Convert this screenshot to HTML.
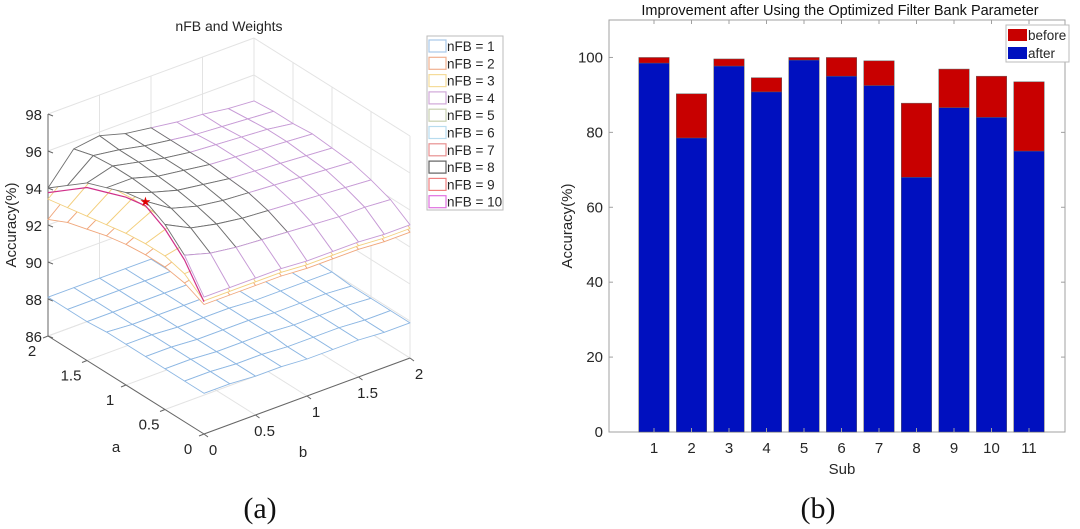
<!DOCTYPE html>
<html><head><meta charset="utf-8"><style>
html,body{margin:0;padding:0;background:#fff;}
svg{display:block;font-family:"Liberation Sans",Arial,sans-serif;}
</style></head><body>
<svg id="fig" width="1080" height="529" viewBox="0 0 1080 529" xmlns="http://www.w3.org/2000/svg">
<g id="left"></g>
<g id="right"></g>
<text x="260" y="518" text-anchor="middle" font-family="Liberation Serif, serif" font-size="30" fill="#111">(a)</text>
<text x="818" y="518" text-anchor="middle" font-family="Liberation Serif, serif" font-size="30" fill="#111">(b)</text>
</svg>
<script>
// ---------- Right chart data ----------
const subs = ["1","2","3","4","5","6","7","8","9","10","11"];
const beforeVals = [100, 90.3, 99.6, 94.6, 100, 100, 99.1, 87.8, 96.9, 95, 93.5];
const afterVals = [98.5, 78.5, 97.7, 90.8, 99.3, 95, 92.5, 68, 86.6, 84, 75];
const yTicks = [0, 20, 40, 60, 80, 100];

// ---------- Left chart data ----------
const gridA = [0, 0.25, 0.5, 0.75, 1, 1.25, 1.5, 1.75, 2];
const gridB = [0, 0.25, 0.5, 0.75, 1, 1.25, 1.5, 1.75, 2];
const zTicks = [86, 88, 90, 92, 94, 96, 98];
const aTicks = [0, 0.5, 1, 1.5, 2];
const bTicks = [0, 0.5, 1, 1.5, 2];
const zBlue = [
[88.2,88.2,88.1,88.1,88.0,88.0,88.0,87.9,87.9],
[88.2,88.2,88.1,88.1,88.0,88.0,88.0,87.9,87.9],
[88.2,88.2,88.1,88.1,88.1,88.0,88.0,88.0,87.9],
[88.2,88.2,88.1,88.1,88.1,88.0,88.0,88.0,87.9],
[88.2,88.2,88.1,88.1,88.1,88.0,88.0,88.0,88.0],
[88.2,88.1,88.1,88.1,88.1,88.0,88.0,88.0,88.0],
[88.1,88.1,88.1,88.1,88.1,88.0,88.0,88.0,88.0],
[88.1,88.1,88.1,88.1,88.1,88.0,88.0,88.0,88.0],
[88.1,88.1,88.1,88.1,88.1,88.0,88.0,88.0,88.0]];
const zOrange = [
[93.0,93.0,93.0,93.0,92.9,92.9,92.9,92.8,92.8],
[93.5,93.8,93.9,93.9,93.8,93.7,93.6,93.6,93.5],
[93.7,94.2,94.3,94.3,94.2,94.1,94.0,93.9,93.8],
[93.7,94.3,94.5,94.5,94.4,94.3,94.2,94.1,94.0],
[93.6,94.3,94.6,94.6,94.5,94.4,94.3,94.2,94.1],
[93.4,94.2,94.6,94.6,94.6,94.5,94.4,94.3,94.2],
[93.1,94.0,94.5,94.6,94.6,94.5,94.4,94.3,94.2],
[92.8,93.8,94.4,94.6,94.6,94.5,94.4,94.3,94.2],
[92.3,93.5,94.3,94.5,94.5,94.4,94.3,94.2,94.1]];
const zYellow = [
[93.2,93.2,93.2,93.2,93.1,93.1,93.1,93.0,93.0],
[94.0,94.1,94.1,94.0,93.9,93.9,93.8,93.8,93.7],
[94.3,94.6,94.6,94.5,94.4,94.3,94.2,94.1,94.0],
[94.3,94.8,94.9,94.8,94.7,94.6,94.5,94.4,94.3],
[94.2,94.9,95.0,95.0,94.8,94.7,94.6,94.5,94.4],
[94.0,94.9,95.1,95.1,94.9,94.8,94.7,94.6,94.5],
[93.8,94.8,95.2,95.1,94.9,94.8,94.7,94.6,94.4],
[93.6,94.7,95.2,95.1,94.9,94.7,94.6,94.5,94.4],
[93.4,94.6,95.2,95.1,94.9,94.7,94.6,94.4,94.3]];
const zTop = [
[93.4,93.4,93.4,93.4,93.3,93.3,93.3,93.2,93.2],
[95.0,94.6,94.4,94.3,94.2,94.1,94.0,94.0,93.9],
[96.0,95.3,95.0,94.8,94.7,94.6,94.5,94.4,94.3],
[96.6,95.7,95.3,95.1,95.0,94.9,94.8,94.7,94.6],
[96.4,95.9,95.5,95.3,95.1,95.0,94.9,94.8,94.7],
[96.0,96.0,95.6,95.4,95.2,95.1,95.0,94.9,94.8],
[95.6,96.0,95.7,95.4,95.2,95.1,95.0,94.9,94.7],
[94.8,95.9,95.7,95.4,95.2,95.0,94.9,94.8,94.7],
[94.0,95.6,95.8,95.4,95.2,95.0,94.9,94.7,94.6]];
const bestPoint = [0.75, 0, 96.6];
const legendLabels = ["nFB = 1","nFB = 2","nFB = 3","nFB = 4","nFB = 5","nFB = 6","nFB = 7","nFB = 8","nFB = 9","nFB = 10"];

const NS = "http://www.w3.org/2000/svg";
function mk(parent, tag, attrs, text) {
  const e = document.createElementNS(NS, tag);
  for (const k in attrs) e.setAttribute(k, attrs[k]);
  if (text !== undefined) e.textContent = text;
  parent.appendChild(e);
  return e;
}

// ================= LEFT 3D =================
(function () {
  const g = document.getElementById('left');
  const P = (a, b, z) => [204 - 78 * a + 103 * b, 434 - 49 * a - 38 * b - 18.5 * (z - 86)];
  const line = (p, q, col, w, name) => {
    const l = mk(g, 'line', {x1: p[0], y1: p[1], x2: q[0], y2: q[1], stroke: col, 'stroke-width': w});
    
    
  };
  const gc = '#e3e3e3';
  zTicks.forEach(z => {
    line(P(2, 0, z), P(2, 2, z), gc, 1, 'z-gridline');
    line(P(2, 2, z), P(0, 2, z), gc, 1, 'z-gridline');
  });
  bTicks.forEach(b => {
    line(P(2, b, 86), P(2, b, 98), gc, 1, 'b-gridline');
    line(P(0, b, 86), P(2, b, 86), gc, 1, 'b-gridline');
  });
  aTicks.forEach(a => {
    line(P(a, 2, 86), P(a, 2, 98), gc, 1, 'a-gridline');
    line(P(a, 0, 86), P(a, 2, 86), gc, 1, 'a-gridline');
  });
  const ac = '#666';
  line(P(2, 0, 86), P(2, 0, 98), ac, 1, 'z-axis');
  line(P(2, 0, 86), P(0, 0, 86), ac, 1, 'a-axis');
  line(P(0, 0, 86), P(0, 2, 86), ac, 1, 'b-axis');
  zTicks.forEach(z => {
    const p = P(2, 0, z);
    line(p, [p[0] + 5, p[1] + 2], ac, 1, 'z-tick');
    const t = mk(g, 'text', {x: p[0] - 6, y: p[1] + 6, 'text-anchor': 'end', 'font-size': 15, fill: '#262626'}, String(z));
    
    
  });
  aTicks.forEach(a => {
    const p = P(a, 0, 86);
    line(p, [p[0] - 5, p[1] + 2], ac, 1, 'a-tick');
    const t = mk(g, 'text', {x: p[0] - 16, y: p[1] + 20, 'text-anchor': 'middle', 'font-size': 15, fill: '#262626'}, String(a));
    
    
  });
  bTicks.forEach(b => {
    const p = P(0, b, 86);
    line(p, [p[0] + 4, p[1] + 3], ac, 1, 'b-tick');
    const t = mk(g, 'text', {x: p[0] + 9, y: p[1] + 21, 'text-anchor': 'middle', 'font-size': 15, fill: '#262626'}, String(b));
    
    
  });
  let t = mk(g, 'text', {x: 116, y: 452, 'text-anchor': 'middle', 'font-size': 15, fill: '#262626'}, 'a');
   
  t = mk(g, 'text', {x: 303, y: 457, 'text-anchor': 'middle', 'font-size': 15, fill: '#262626'}, 'b');
   
  t = mk(g, 'text', {x: 0, y: 0, transform: 'translate(16,225) rotate(-90)', 'text-anchor': 'middle', 'font-size': 15, fill: '#262626'}, 'Accuracy(%)');
   
  t = mk(g, 'text', {x: 229, y: 31, 'text-anchor': 'middle', 'font-size': 14, fill: '#262626'}, 'nFB and Weights');
   

  function surface(Z, colFn, name) {
    const sg = mk(g, 'g', {});
    
    
    const faces = [];
    for (let i = 0; i < gridA.length - 1; i++)
      for (let j = 0; j < gridB.length - 1; j++)
        faces.push([i, j]);
    faces.sort((f, h) => (h[0] + h[1]) - (f[0] + f[1]));
    faces.forEach(([i, j]) => {
      const pts = [P(gridA[i], gridB[j], Z[i][j]), P(gridA[i + 1], gridB[j], Z[i + 1][j]),
                   P(gridA[i + 1], gridB[j + 1], Z[i + 1][j + 1]), P(gridA[i], gridB[j + 1], Z[i][j + 1])];
      const poly = mk(sg, 'polygon', {points: pts.map(p => p.join(',')).join(' '), fill: '#fff', stroke: colFn(i, j), 'stroke-width': 0.9, 'stroke-linejoin': 'round'});
      
      
    });
  }
  surface(zBlue, () => '#8db7e3', 'surface-nfb-1');
  surface(zOrange, () => '#f0a77c', 'surface-nfb-2');
  surface(zYellow, () => '#f3cf7e', 'surface-nfb-3');
  surface(zTop, (i, j) => (j < 4 && i > 0) ? '#6f6f6f' : '#c79bd6', 'surface-nfb-8');
  const edge = gridA.map((a, i) => P(a, 0, zTop[i][0] - 0.25));
  const pl = mk(g, 'polyline', {points: edge.map(p => p.join(',')).join(' '), fill: 'none', stroke: '#d0308a', 'stroke-width': 1.2});
  
  
  const sp = P(bestPoint[0], bestPoint[1], bestPoint[2]);
  const st = mk(g, 'text', {x: sp[0], y: sp[1] + 5, 'text-anchor': 'middle', 'font-size': 13, fill: '#e00000'}, '★');
  
  

  const legCols = ['#a8c8e8', '#f0b090', '#f5dc9a', '#d0a8d8', '#c8d0b0', '#b8dcef', '#e89090', '#606060', '#f08080', '#e070e0'];
  const lg = mk(g, 'g', {});
  
  
  const lb = mk(lg, 'rect', {x: 427, y: 36, width: 76, height: 174, fill: '#fff', stroke: '#bbb', 'stroke-width': 1});
  
  
  legendLabels.forEach((lab, k) => {
    const y = 46 + k * 17.3;
    const r = mk(lg, 'rect', {x: 429, y: y - 6, width: 17, height: 12, fill: '#fff', stroke: legCols[k], 'stroke-width': 1.2});
    
    
    const tx = mk(lg, 'text', {x: 447, y: y + 5, 'font-size': 13.5, fill: '#262626'}, lab);
    
    
  });
})();

// ================= RIGHT BAR =================
(function () {
  const g = document.getElementById('right');
  const L = 609, R = 1065, T = 20, B = 432;
  const yS = v => B - (v / 110) * (B - T);
  const xS = i => 616.5 + 37.5 * (i + 1);
  const bw = 30.5;
  const axc = '#a0a0a0';
  const box = mk(g, 'rect', {x: L, y: T, width: R - L, height: B - T, fill: '#fff', stroke: axc, 'stroke-width': 1});
  
  
  subs.forEach((s, i) => {
    const x = xS(i) - bw / 2;
    const rb = mk(g, 'rect', {x: x, y: yS(beforeVals[i]), width: bw, height: B - yS(beforeVals[i]), fill: '#c80000', stroke: '#666', 'stroke-width': 0.5});
    
    
    const ab = mk(g, 'rect', {x: x, y: yS(afterVals[i]), width: bw, height: B - yS(afterVals[i]), fill: '#0010bf', stroke: '#666', 'stroke-width': 0.5});
    
    
    const tk1 = mk(g, 'line', {x1: xS(i), y1: B, x2: xS(i), y2: B - 4, stroke: axc});
     
    const tk2 = mk(g, 'line', {x1: xS(i), y1: T, x2: xS(i), y2: T + 4, stroke: axc});
     
    const tl = mk(g, 'text', {x: xS(i), y: 453, 'text-anchor': 'middle', 'font-size': 15, fill: '#262626'}, s);
     
  });
  yTicks.forEach(v => {
    const y = yS(v);
    const t1 = mk(g, 'line', {x1: L, y1: y, x2: L + 4, y2: y, stroke: axc});
     
    const t2 = mk(g, 'line', {x1: R, y1: y, x2: R - 4, y2: y, stroke: axc});
     
    const tl = mk(g, 'text', {x: 603, y: y + 5, 'text-anchor': 'end', 'font-size': 15, fill: '#262626'}, String(v));
     
  });
  let t = mk(g, 'text', {x: 842, y: 474, 'text-anchor': 'middle', 'font-size': 15, fill: '#262626'}, 'Sub');
   
  t = mk(g, 'text', {x: 0, y: 0, transform: 'translate(572,226) rotate(-90)', 'text-anchor': 'middle', 'font-size': 15, fill: '#262626'}, 'Accuracy(%)');
   
  t = mk(g, 'text', {x: 840, y: 15, 'text-anchor': 'middle', 'font-size': 14.5, fill: '#111'}, 'Improvement after Using the Optimized Filter Bank Parameter');
   
  const lg = mk(g, 'g', {});
  
  
  const bx = mk(lg, 'rect', {x: 1006, y: 25, width: 63, height: 37, fill: '#fff', stroke: '#bbb'});
   
  const s1 = mk(lg, 'rect', {x: 1008, y: 29, width: 19, height: 12, fill: '#c80000'});
   
  const s2 = mk(lg, 'rect', {x: 1008, y: 47, width: 19, height: 12, fill: '#0010bf'});
   
  const l1 = mk(lg, 'text', {x: 1028, y: 40, 'font-size': 13.5, fill: '#262626'}, 'before');
   
  const l2 = mk(lg, 'text', {x: 1028, y: 58, 'font-size': 13.5, fill: '#262626'}, 'after');
   
})();
</script>
</body></html>
